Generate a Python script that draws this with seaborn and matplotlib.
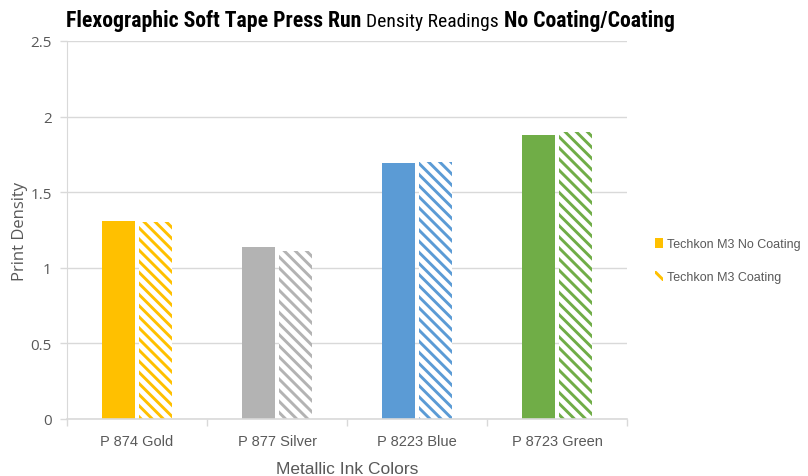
import matplotlib
matplotlib.use("Agg")
import matplotlib.pyplot as plt
from matplotlib import font_manager
from matplotlib.patches import Patch
import seaborn as sns
import pandas as pd

inks = ["P 874 Gold", "P 877 Silver", "P 8223 Blue", "P 8723 Green"]
series = ["Techkon M3 No Coating", "Techkon M3 Coating"]
no_coating = [1.31, 1.14, 1.69, 1.88]
coating = [1.30, 1.11, 1.70, 1.90]
ink_colors = ["#FFC000", "#B3B3B3", "#5B9BD5", "#70AD47"]
y_ticks = [0, 0.5, 1, 1.5, 2, 2.5]

df = pd.DataFrame({
    "ink": inks * 2,
    "series": [series[0]] * len(inks) + [series[1]] * len(inks),
    "density": no_coating + coating,
})

sns.set_style("white")
plt.rcParams["font.family"] = ["Liberation Sans", "DejaVu Sans"]
plt.rcParams["hatch.linewidth"] = 2.1

# Narrow face for the headline, first one available
installed = {f.name for f in font_manager.fontManager.ttflist}
narrow_choices = ["Liberation Sans Narrow", "Arial Narrow", "Roboto Condensed",
                  "PT Sans Narrow", "Archivo Narrow", "Liberation Sans"]
title_family = next(n for n in narrow_choices if n in installed)

fig = plt.figure(figsize=(8.08, 4.77), dpi=100)
ax = fig.add_axes([67 / 808, 1 - 420 / 477, 560 / 808, 378 / 477])

sns.barplot(data=df, x="ink", y="density", hue="series", order=inks,
            hue_order=series, width=0.53, gap=0.12, ax=ax, legend=False,
            errorbar=None)

# Solid bars for the uncoated run, striped bars for the coated run
for patch, col in zip(ax.containers[0], ink_colors):
    patch.set_facecolor(col)
    patch.set_edgecolor(col)
    patch.set_linewidth(0)
for patch, col in zip(ax.containers[1], ink_colors):
    patch.set_facecolor("white")
    patch.set_edgecolor(col)
    patch.set_hatch("\\\\\\")
    patch.set_linewidth(0)

ax.set_ylim(0, 2.5)
ax.set_xlim(-0.5, 3.5)
ax.set_yticks(y_ticks)
ax.set_yticklabels([f"{v:g}" for v in y_ticks], family="Open Sans",
                   fontsize=11, color="#595959")
ax.yaxis.grid(True, color="#D9D9D9", linewidth=1)
ax.set_axisbelow(True)
ax.tick_params(axis="y", length=5, width=1, color="#D9D9D9", pad=6, left=True)

ax.set_xticks(range(len(inks)))
ax.set_xticklabels(inks, fontsize=10.5, color="#595959")
ax.set_xticks([-0.5, 0.5, 1.5, 2.5, 3.5], minor=True)
ax.tick_params(axis="x", which="major", length=0, pad=11)
ax.tick_params(axis="x", which="minor", length=5, width=1, color="#D9D9D9",
               bottom=True)

for side in ["top", "right"]:
    ax.spines[side].set_visible(False)
ax.spines["left"].set_color("#D9D9D9")
ax.spines["bottom"].set_color("#D9D9D9")
ax.spines["bottom"].set_linewidth(1.2)

ax.set_xlabel("Metallic Ink Colors", fontsize=12.5, color="#595959", labelpad=9)
ax.set_ylabel("Print Density", family="Open Sans", fontsize=12,
              color="#595959", labelpad=2)

handles = [
    Patch(facecolor=ink_colors[0], edgecolor=ink_colors[0], linewidth=0),
    Patch(facecolor="white", edgecolor=ink_colors[0], hatch="\\\\",
          linewidth=0),
]
fig.legend(handles, series, loc="upper left", bbox_to_anchor=(655 / 808, 1 - 239 / 477),
           frameon=False, fontsize=9, labelcolor="#595959", handlelength=0.6,
           handleheight=0.8, handletextpad=0.35, labelspacing=1.7,
           borderaxespad=0, borderpad=0)

# Headline assembled from bold and regular pieces
fig.canvas.draw()
renderer = fig.canvas.get_renderer()
x = 66 / 808
pieces = [("Flexographic Soft Tape Press Run ", "bold", 15.7),
          ("Density Readings ", "normal", 14),
          ("No Coating/Coating", "bold", 15.7)]
for text, weight, size in pieces:
    t = fig.text(x, 1 - 27 / 477, text, fontsize=size, fontweight=weight,
                 family=title_family, color="black", ha="left", va="baseline")
    bb = t.get_window_extent(renderer)
    x += bb.width / fig.bbox.width

fig.savefig("out.png", dpi=100)
